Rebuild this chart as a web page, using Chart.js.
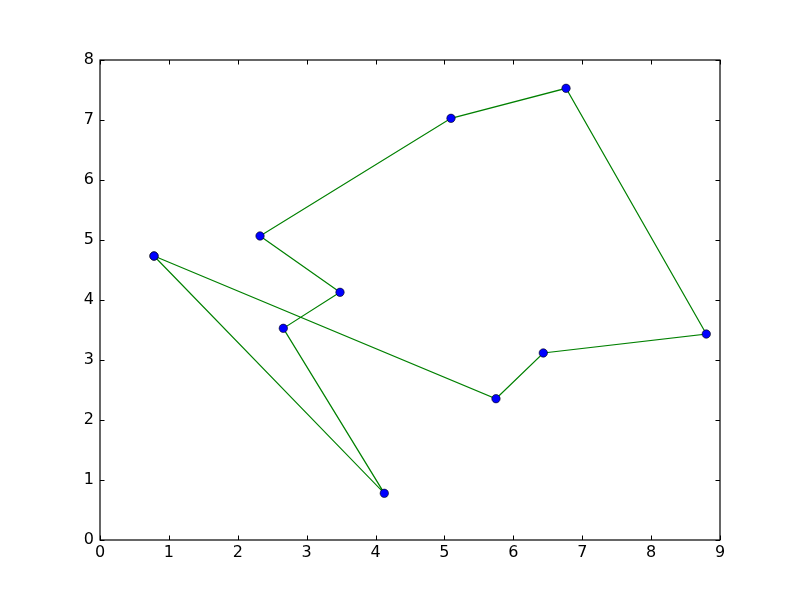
<!DOCTYPE html>
<html>
<head>
<meta charset="utf-8">
<script src="https://cdn.jsdelivr.net/npm/chart.js@4/dist/chart.umd.min.js"></script>
<style>
html,body{margin:0;padding:0;background:#fff;}
canvas{display:block;}
</style>
</head>
<body>
<canvas id="c" width="800" height="600"></canvas>
<script>
// Path points (closed loop: last point repeats the first)
const xValues = [0.784, 4.127, 2.661, 3.484, 2.323, 5.095, 6.765, 8.801, 6.435, 5.748, 0.784];
const yValues = [4.733, 0.778, 3.528, 4.128, 5.067, 7.028, 7.528, 3.433, 3.117, 2.355, 4.733];
const xTicks = [0, 1, 2, 3, 4, 5, 6, 7, 8, 9];
const yTicks = [0, 1, 2, 3, 4, 5, 6, 7, 8];

const points = xValues.map((x, i) => ({x: x, y: yValues[i]}));

const frameTicks = {
  id: 'frameTicks',
  afterDatasetsDraw(chart) {
    const ctx = chart.ctx;
    const a = chart.chartArea;
    const xs = chart.scales.x, ys = chart.scales.y;
    const tl = 4.5;
    ctx.save();
    ctx.strokeStyle = '#000';
    ctx.lineWidth = 1;
    ctx.beginPath();
    xTicks.forEach(v => {
      const px = Math.round(xs.getPixelForValue(v)) + 0.5;
      ctx.moveTo(px, a.bottom); ctx.lineTo(px, a.bottom - tl);
      ctx.moveTo(px, a.top); ctx.lineTo(px, a.top + tl);
    });
    yTicks.forEach(v => {
      const py = Math.round(ys.getPixelForValue(v)) + 0.5;
      ctx.moveTo(a.left, py); ctx.lineTo(a.left + tl, py);
      ctx.moveTo(a.right, py); ctx.lineTo(a.right - tl, py);
    });
    ctx.stroke();
    ctx.lineWidth = 1.2;
    ctx.strokeRect(a.left, a.top, a.right - a.left, a.bottom - a.top);
    ctx.restore();
  }
};

new Chart(document.getElementById('c'), {
  type: 'scatter',
  data: {
    datasets: [{
      data: points,
      showLine: true,
      borderColor: '#008000',
      borderWidth: 1.2,
      backgroundColor: '#0000ff',
      pointBackgroundColor: '#0000ff',
      pointBorderColor: '#000000',
      pointBorderWidth: 0.6,
      pointRadius: 4.2,
      pointHoverRadius: 4.2,
      tension: 0,
      clip: false
    }]
  },
  options: {
    responsive: false,
    animation: false,
    events: [],
    layout: {padding: {left: 0, right: 80, top: 60, bottom: 0}},
    plugins: {legend: {display: false}, tooltip: {enabled: false}},
    scales: {
      x: {
        type: 'linear', min: 0, max: 9,
        afterBuildTicks: s => { s.ticks = xTicks.map(v => ({value: v})); },
        afterFit: s => { s.height = 60; },
        grid: {display: false, drawTicks: false},
        border: {display: false},
        ticks: {padding: 3, color: '#000', maxRotation: 0, autoSkip: false,
                font: {family: 'DejaVu Sans', size: 16}}
      },
      y: {
        type: 'linear', min: 0, max: 8,
        afterBuildTicks: s => { s.ticks = yTicks.map(v => ({value: v})); },
        afterFit: s => { s.width = 100; },
        grid: {display: false, drawTicks: false},
        border: {display: false},
        ticks: {padding: 6, color: '#000', autoSkip: false,
                font: {family: 'DejaVu Sans', size: 16}}
      }
    }
  },
  plugins: [frameTicks]
});
</script>
</body>
</html>
